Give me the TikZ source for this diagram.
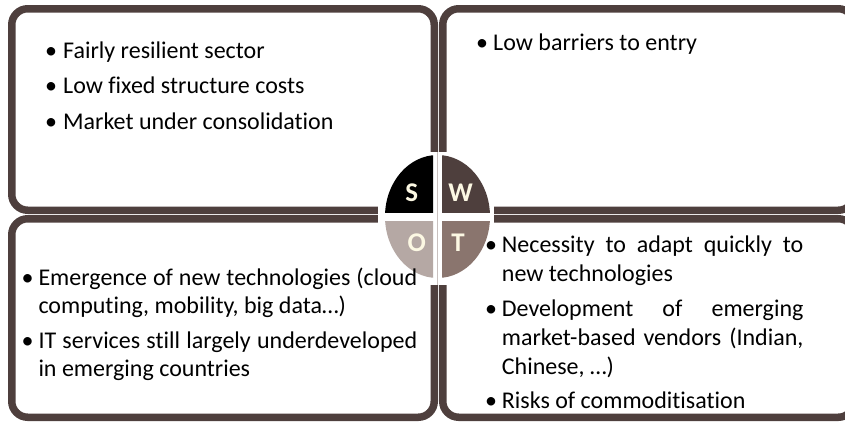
\documentclass[tikz,border=0pt]{standalone}
\usepackage{fontspec}
\setmainfont{Carlito}[Ligatures=NoCommon]
\definecolor{frame}{HTML}{4E3F3D}
\definecolor{qS}{HTML}{000000}
\definecolor{qW}{HTML}{4E3F3D}
\definecolor{qO}{HTML}{B5A8A4}
\definecolor{qT}{HTML}{8A756E}
\definecolor{letter}{HTML}{FCF8E3}
\definecolor{seam}{HTML}{C9C1BF}
\tikzset{
  panel/.style={draw=frame, line width=7.5pt, rounded corners=16pt},
  txt/.style={anchor=base west, inner sep=0pt, font=\fontsize{24}{28}\selectfont, text=black},
  bul/.style={anchor=base west, inner sep=0pt, font=\fontsize{24}{28}\selectfont, text=black},
  quadletter/.style={inner sep=0pt, font=\fontsize{27}{30}\selectfont\bfseries, text=letter}
}
\begin{document}
\begin{tikzpicture}[x=1pt,y=-1pt]
\useasboundingbox (0,0) rectangle (845,423);
\clip (0,0) rectangle (845,423);

% four framed panels
\draw[panel] (11.75,8.75) rectangle (434.25,210.25);
\draw[panel] (442.75,8.75) rectangle (854.25,210.25);
\draw[panel] (11.75,218.75) rectangle (434.25,417.25);
\draw[panel] (442.75,218.75) rectangle (854.25,417.25);

% clear the seams around the centre disc
\fill[white] (378,152) rectangle (494,285);
\draw[seam, line width=0.8pt] (437.5,152) -- (437.5,285);

% centre disc split into four quarters
\coordinate (c) at (437.5,216.5);
\begin{scope}
  \clip (380,150) rectangle (433,212);
  \fill[qS] (c) ellipse [x radius=52.5, y radius=61.5];
\end{scope}
\begin{scope}
  \clip (442,150) rectangle (495,212);
  \fill[qW] (c) ellipse [x radius=52.5, y radius=61.5];
\end{scope}
\begin{scope}
  \clip (380,221) rectangle (433,285);
  \fill[qO] (c) ellipse [x radius=52.5, y radius=61.5];
\end{scope}
\begin{scope}
  \clip (442,221) rectangle (495,285);
  \fill[qT] (c) ellipse [x radius=52.5, y radius=61.5];
\end{scope}
\node[quadletter] (lS) at (411.7,193) {S};
\node[quadletter] (lW) at (460.7,193) {W};
\node[quadletter] (lO) at (416.7,243) {O};
\node[quadletter] (lT) at (458,243) {T};

% strengths
\node[bul] (sb1) at (45,58) {•};
\node[txt] (s1) at (63,58) {Fairly resilient sector};
\node[bul] (sb2) at (45,93.5) {•};
\node[txt] (s2) at (63,93.5) {Low fixed structure costs};
\node[bul] (sb3) at (45,129) {•};
\node[txt] (s3) at (63,129) {Market under consolidation};

% weaknesses
\node[bul] (wb1) at (476,50) {•};
\node[txt] (w1) at (493,50) {Low barriers to entry};

% opportunities
\node[bul] (ob1) at (21.5,285) {•};
\node[txt] (o1a) at (38.3,285) {\makebox[378.7pt][s]{Emergence of new technologies (cloud}};
\node[txt] (o1b) at (38.3,313.3) {computing, mobility, big data…)};
\node[bul] (ob2) at (21.5,348.3) {•};
\node[txt] (o2a) at (38.3,348.3) {\makebox[378.7pt][s]{IT services still largely underdeveloped}};
\node[txt] (o2b) at (38.3,376.7) {in emerging countries};

% threats
\node[bul] (tb1) at (485,252.7) {•};
\node[txt] (t1a) at (501.7,252.7) {\makebox[301.5pt][s]{Necessity to adapt quickly to}};
\node[txt] (t1b) at (501.7,281.7) {new technologies};
\node[bul] (tb2) at (485,316.7) {•};
\node[txt] (t2a) at (501.7,316.7) {\makebox[301.5pt][s]{Development of emerging}};
\node[txt] (t2b) at (501.7,345) {\makebox[301.5pt][s]{market-based vendors (Indian,}};
\node[txt] (t2c) at (501.7,374) {Chinese, …)};
\node[bul] (tb3) at (485,408.3) {•};
\node[txt] (t3) at (501.7,408.3) {Risks of commoditisation};
\end{tikzpicture}
\end{document}
